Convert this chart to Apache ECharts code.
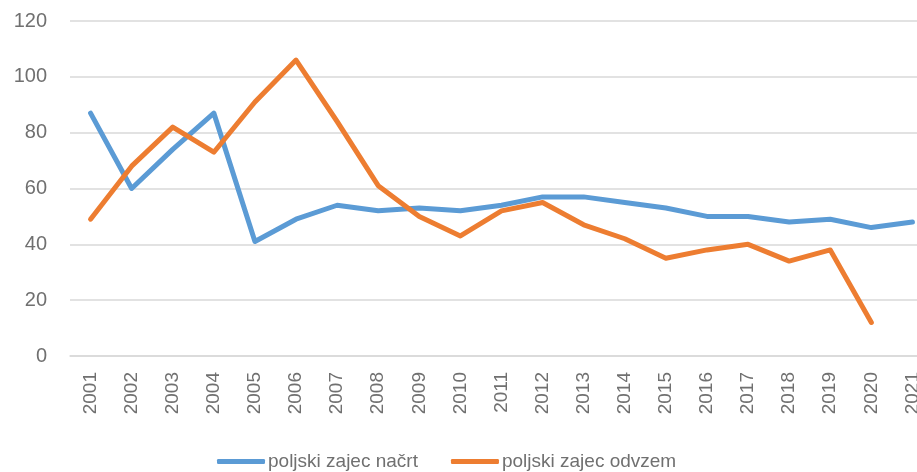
<!DOCTYPE html>
<html><head><meta charset="utf-8">
<script src="https://cdn.jsdelivr.net/npm/echarts@6/dist/echarts.min.js"></script>
<style>html,body{margin:0;padding:0;background:#fff}#c{width:917px;height:472px}</style>
</head><body><div id="c"></div>
<script>
const years = ['2001','2002','2003','2004','2005','2006','2007','2008','2009','2010','2011','2012','2013','2014','2015','2016','2017','2018','2019','2020','2021'];
const nacrt = [87,60,74,87,41,49,54,52,53,52,54,57,57,55,53,50,50,48,49,46,48];
const odvzem = [49,68,82,73,91,106,84,61,50,43,52,55,47,42,35,38,40,34,38,12,null];
const yTicks = {min:0, max:120, interval:20};
const names = ['poljski zajec načrt','poljski zajec odvzem'];

const chart = echarts.init(document.getElementById('c'));
const font = '"Liberation Sans", Arial, sans-serif';
const txt = '#707070';
chart.setOption({
  animation:false,
  grid:{left:70, top:21, width:863, height:335, outerBoundsMode:'none', containLabel:false},
  legend:{
    top:447, left:212, itemWidth:48, itemHeight:5, itemGap:33,
    icon:'roundRect',
    textStyle:{color:txt, fontSize:19, fontFamily:font, padding:[0,0,0,-2]},
    data:names
  },
  xAxis:{
    type:'category', data:years, boundaryGap:true,
    axisLine:{show:true, lineStyle:{color:'#d9d9d9', width:1.5}},
    axisTick:{show:false},
    axisLabel:{rotate:90, color:txt, fontSize:19, fontFamily:font, margin:16, interval:0}
  },
  yAxis:{
    type:'value', min:yTicks.min, max:yTicks.max, interval:yTicks.interval,
    axisLine:{show:false}, axisTick:{show:false},
    splitLine:{lineStyle:{color:'#d9d9d9', width:1.5}},
    axisLabel:{color:txt, fontSize:20, fontFamily:font, margin:23}
  },
  series:[
    {name:names[0], type:'line', data:nacrt, symbol:'none', lineStyle:{color:'#5B9BD5', width:5, cap:'round', join:'round'}, itemStyle:{color:'#5B9BD5'}},
    {name:names[1], type:'line', data:odvzem, symbol:'none', lineStyle:{color:'#ED7D31', width:5, cap:'round', join:'round'}, itemStyle:{color:'#ED7D31'}}
  ]
});
</script></body></html>
